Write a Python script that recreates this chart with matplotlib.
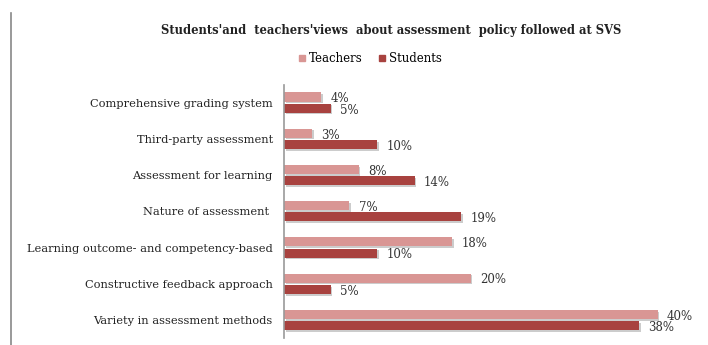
import matplotlib
matplotlib.use("Agg")
import matplotlib.pyplot as plt
import matplotlib.patheffects as pe
from matplotlib.lines import Line2D
import numpy as np

categories = [
    "Comprehensive grading system",
    "Third-party assessment",
    "Assessment for learning",
    "Nature of assessment ",
    "Learning outcome- and competency-based",
    "Constructive feedback approach",
    "Variety in assessment methods",
]
teachers = [4, 3, 8, 7, 18, 20, 40]
students = [5, 10, 14, 19, 10, 5, 38]

c_teach = "#D99694"
c_stud = "#A8423F"
font = "DejaVu Serif"

fig = plt.figure(figsize=(7.08, 3.45), dpi=100)
ax = fig.add_axes([0.401, 0.02, 0.594, 0.735])

y = np.arange(len(categories))
h = 0.25
shadow = [pe.SimplePatchShadow(offset=(1.2, -1.2), shadow_rgbFace="#9a9a9a", alpha=0.5), pe.Normal()]
bt = ax.barh(y - h / 2 - 0.03, teachers, height=h, color=c_teach, label="Teachers",
             path_effects=shadow)
bs = ax.barh(y + h / 2 + 0.03, students, height=h, color=c_stud, label="Students",
             path_effects=shadow)

for rect, v in zip(bt, teachers):
    ax.text(rect.get_width() + 1.0, rect.get_y() + rect.get_height() / 2 + 0.05, f"{v}%",
            va="center", ha="left", fontsize=8.5, family=font, color="#333333")
for rect, v in zip(bs, students):
    ax.text(rect.get_width() + 1.0, rect.get_y() + rect.get_height() / 2 + 0.05, f"{v}%",
            va="center", ha="left", fontsize=8.5, family=font, color="#333333")

ax.set_ylim(len(categories) - 0.5, -0.5)
ax.set_xlim(0, 45)
ax.set_yticks(y)
ax.set_yticklabels(categories, family=font, fontsize=8.2, color="#222222")
ax.tick_params(axis="y", length=0, pad=8)
ax.set_xticks([])
for s in ["top", "right", "bottom"]:
    ax.spines[s].set_visible(False)
ax.spines["left"].set_color("#999999")
ax.spines["left"].set_linewidth(1.2)

fig.text(0.552, 0.913, "Students'and  teachers'views  about assessment  policy followed at SVS",
         ha="center", va="center", family=font, fontsize=8.3, fontweight="bold", color="#222222")

handles = [
    Line2D([], [], marker="s", linestyle="", markersize=5, color=c_teach),
    Line2D([], [], marker="s", linestyle="", markersize=5, color=c_stud),
]
fig.legend(handles, ["Teachers", "Students"], loc="center", bbox_to_anchor=(0.523, 0.83),
           ncol=2, frameon=False, prop={"family": font, "size": 8.5},
           handlelength=0.6, handletextpad=0.3, columnspacing=1.3)

fig.add_artist(Line2D([0.0155, 0.0155], [0.0, 0.962], transform=fig.transFigure,
                      color="#888888", linewidth=1.2))

fig.savefig("out.png", dpi=100, facecolor="white")
